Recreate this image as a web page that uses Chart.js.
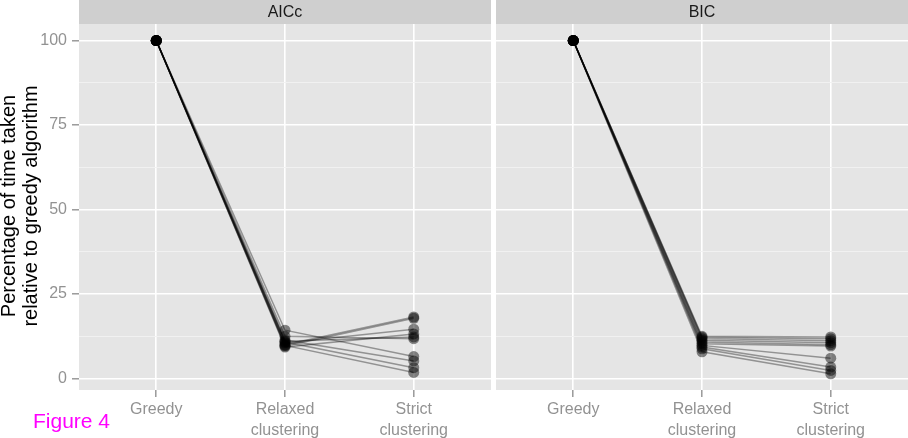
<!DOCTYPE html>
<html><head><meta charset="utf-8">
<script src="https://cdn.jsdelivr.net/npm/chart.js@4"></script>
<style>
html,body{margin:0;padding:0;background:#fff;}
#wrap{position:relative;width:908px;height:438px;overflow:hidden;background:#fff;}
canvas{position:absolute;top:0;}
</style></head><body>
<div id="wrap">
<canvas id="c1" width="491" height="438" style="left:0;width:491px;height:438px"></canvas>
<canvas id="c2" width="417" height="438" style="left:491px;width:417px;height:438px"></canvas>
</div>
<script>
// ---- data ----
const categories = [['Greedy'], ['Relaxed', 'clustering'], ['Strict', 'clustering']];
const categoryPositions = [1, 2, 3];
const panelNames = ['AICc', 'BIC'];
const yAxisTitle = ['Percentage of time taken', 'relative to greedy algorithm'];
const figureLabel = 'Figure 4';
const yMajorTicks = [0, 25, 50, 75, 100];
const yMinorTicks = [12.5, 37.5, 62.5, 87.5];

const greedyAICc  = [100, 100, 100, 100, 100, 100, 100, 100, 100, 100];
const relaxedAICc = [10.0, 9.6, 10.5, 9.3, 11.0, 12.5, 14.3, 11.4, 10.8, 9.8];
const strictAICc  = [18.2, 17.8, 14.6, 13.2, 12.3, 11.8, 6.5, 5.2, 3.2, 1.8];

const greedyBIC   = [100, 100, 100, 100, 100, 100, 100, 100, 100, 100];
const relaxedBIC  = [12.5, 12.2, 11.8, 11.3, 10.8, 10.3, 9.8, 9.3, 8.8, 7.9];
const strictBIC   = [12.3, 11.8, 11.2, 10.6, 10.0, 9.6, 6.0, 3.4, 2.4, 1.4];

// ---- styling ----
const FONT = "'Liberation Sans', Arial, Helvetica, sans-serif";
const TICK_GREY = '#929292';

function buildDatasets(g, r, s) {
  const out = [];
  for (let i = 0; i < g.length; i++) {
    out.push({
      data: [
        { x: categoryPositions[0], y: g[i] },
        { x: categoryPositions[1], y: r[i] },
        { x: categoryPositions[2], y: s[i] }
      ],
      showLine: true,
      borderColor: 'rgba(0,0,0,0.36)',
      borderWidth: 1.5,
      backgroundColor: 'rgba(0,0,0,0.46)',
      pointRadius: 5.5,
      pointBorderWidth: 0,
      pointBorderColor: 'rgba(0,0,0,0)',
      pointHoverRadius: 5.5
    });
  }
  return out;
}

const panelDeco = {
  id: 'panelDeco',
  beforeDraw(chart, args, opts) {
    const { ctx, chartArea: a } = chart;
    ctx.save();
    ctx.fillStyle = '#e5e5e5';
    ctx.fillRect(a.left, a.top, a.right - a.left, a.bottom - a.top);
    ctx.restore();
  },
  afterDraw(chart, args, opts) {
    const { ctx, chartArea: a } = chart;
    ctx.save();
    ctx.fillStyle = '#cfcfcf';
    ctx.fillRect(a.left, 0, a.right - a.left, a.top);
    ctx.fillStyle = '#1a1a1a';
    ctx.font = '16px ' + FONT;
    ctx.textAlign = 'center';
    ctx.textBaseline = 'middle';
    ctx.fillText(opts.title, (a.left + a.right) / 2, a.top / 2 + 0.5);
    if (opts.left) {
      // y axis title
      ctx.save();
      ctx.translate(0, 206);
      ctx.rotate(-Math.PI / 2);
      ctx.fillStyle = '#000';
      ctx.font = '20px ' + FONT;
      ctx.textAlign = 'center';
      ctx.textBaseline = 'alphabetic';
      ctx.fillText(yAxisTitle[0], 0, 15);
      ctx.fillText(yAxisTitle[1], 0, 37);
      ctx.restore();
      // figure label
      ctx.fillStyle = '#ff00ff';
      ctx.font = '21px ' + FONT;
      ctx.textAlign = 'left';
      ctx.textBaseline = 'alphabetic';
      ctx.fillText(figureLabel, 33, 428);
    }
    ctx.restore();
  }
};

function makeOptions(isLeft, title) {
  const isMajor = (c) => c.tick && yMajorTicks.includes(c.tick.value);
  return {
    responsive: false,
    animation: false,
    devicePixelRatio: 1,
    layout: { autoPadding: false, padding: { top: 24, left: 0, right: 0, bottom: 0 } },
    plugins: {
      legend: { display: false },
      tooltip: { enabled: false },
      panelDeco: { title: title, left: isLeft }
    },
    scales: {
      x: {
        type: 'linear',
        min: 0.4,
        max: 3.6,
        afterBuildTicks: (s) => { s.ticks = categoryPositions.map(v => ({ value: v })); },
        afterFit: (s) => { s.height = 48; },
        grid: { color: '#ffffff', lineWidth: 1.6, tickLength: 7, tickColor: TICK_GREY, tickWidth: 1.4 },
        border: { display: false },
        ticks: {
          padding: 2,
          color: TICK_GREY,
          font: { family: FONT, size: 16, lineHeight: 1.3 },
          maxRotation: 0,
          autoSkip: false,
          callback: (v, i) => categories[i]
        }
      },
      y: {
        type: 'linear',
        min: -3.4,
        max: 104.9,
        afterBuildTicks: (s) => {
          s.ticks = yMajorTicks.concat(yMinorTicks).sort((a, b) => a - b).map(v => ({ value: v }));
        },
        afterFit: (s) => { s.width = isLeft ? 79 : 5; },
        grid: {
          color: (c) => isMajor(c) ? '#ffffff' : '#f2f2f2',
          lineWidth: (c) => isMajor(c) ? 1.6 : 0.9,
          drawTicks: isLeft,
          tickLength: isLeft ? 7 : 0,
          tickColor: (c) => (isLeft && isMajor(c)) ? TICK_GREY : 'rgba(0,0,0,0)',
          tickWidth: 1.4
        },
        border: { display: false },
        ticks: {
          display: isLeft,
          padding: 5,
          color: TICK_GREY,
          font: { family: FONT, size: 16 },
          autoSkip: false,
          callback: (v) => yMajorTicks.includes(v) ? String(v) : ''
        }
      }
    }
  };
}

new Chart(document.getElementById('c1'), {
  type: 'scatter',
  data: { datasets: buildDatasets(greedyAICc, relaxedAICc, strictAICc) },
  options: makeOptions(true, panelNames[0]),
  plugins: [panelDeco]
});
new Chart(document.getElementById('c2'), {
  type: 'scatter',
  data: { datasets: buildDatasets(greedyBIC, relaxedBIC, strictBIC) },
  options: makeOptions(false, panelNames[1]),
  plugins: [panelDeco]
});
</script>
</body></html>
